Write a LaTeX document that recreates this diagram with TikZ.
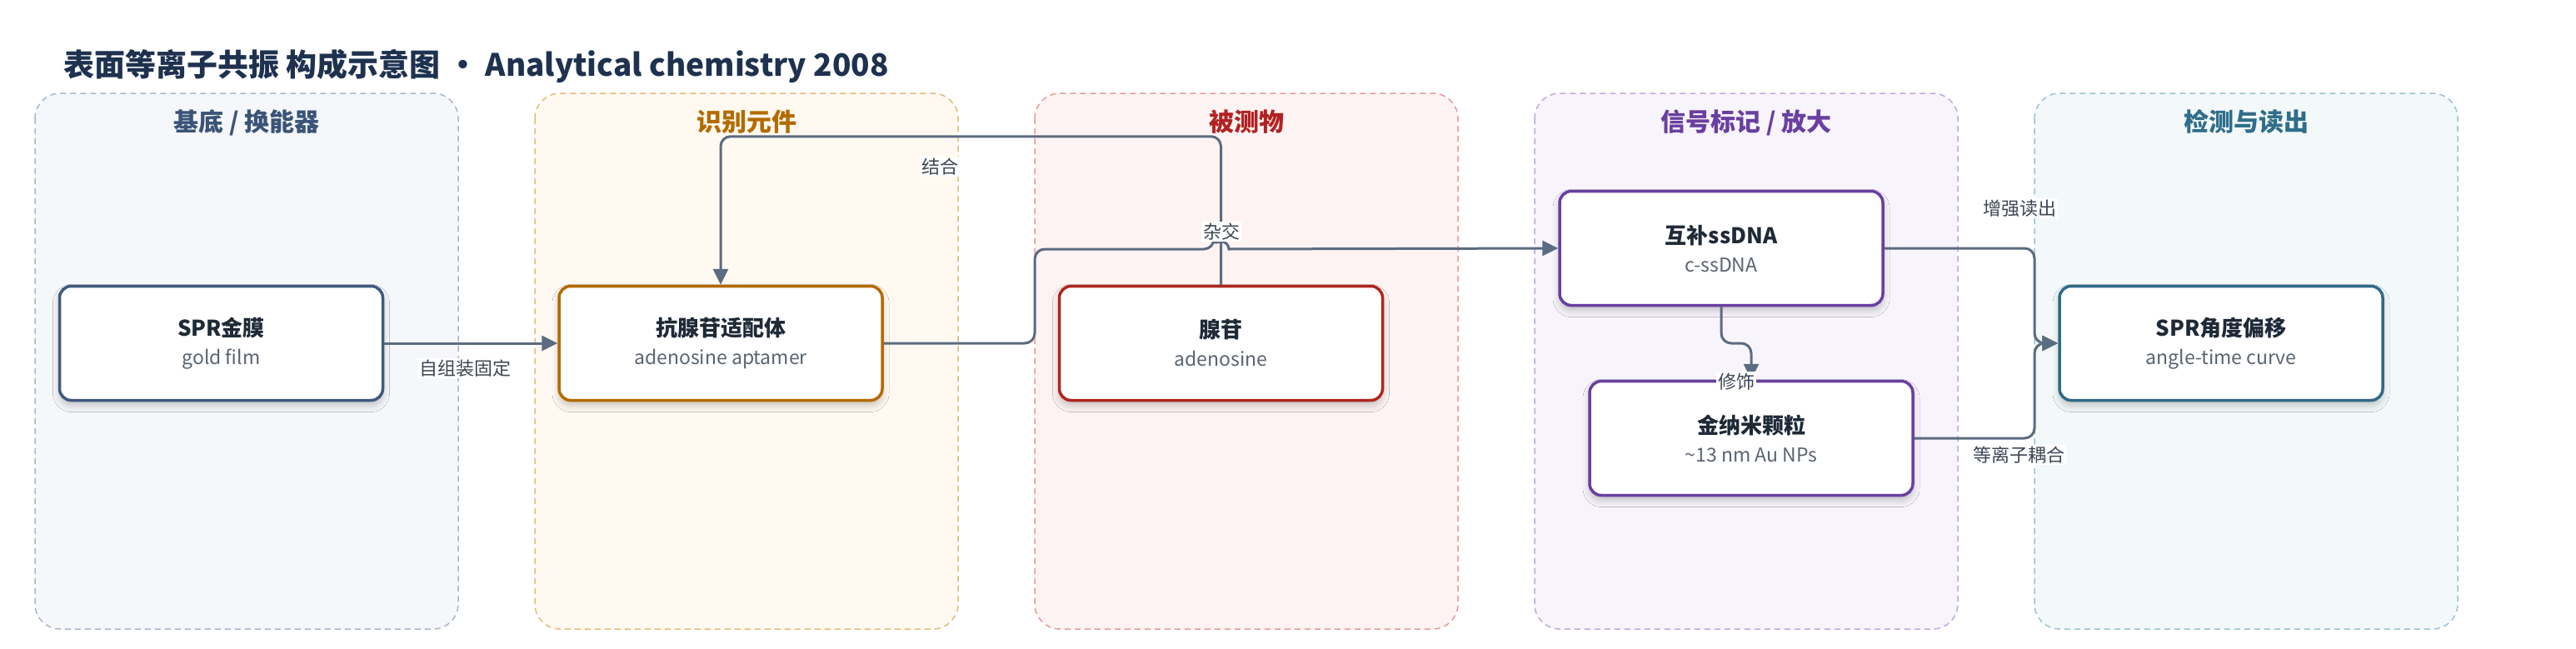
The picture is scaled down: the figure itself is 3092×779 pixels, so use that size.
\documentclass[tikz,border=0pt]{standalone}
\usepackage{fontspec}
\setmainfont{Noto Sans CJK SC}
\usetikzlibrary{arrows.meta,shadows.blur}
\definecolor{titlec}{HTML}{1E3250}
\definecolor{tdark}{HTML}{1F2A37}
\definecolor{tsub}{HTML}{5A6472}
\definecolor{ec}{HTML}{5B6B80}
\definecolor{lc}{HTML}{3D4654}
\definecolor{p1d}{HTML}{A9B7CC}\definecolor{p1f}{HTML}{F5F7FB}\definecolor{p1h}{HTML}{3B5478}\definecolor{p1n}{HTML}{3F5A80}
\definecolor{p2d}{HTML}{E2BC78}\definecolor{p2f}{HTML}{FFF9F1}\definecolor{p2h}{HTML}{B36B00}\definecolor{p2n}{HTML}{B36B00}
\definecolor{p3d}{HTML}{E39C9C}\definecolor{p3f}{HTML}{FDF3F3}\definecolor{p3h}{HTML}{B22222}\definecolor{p3n}{HTML}{B0261F}
\definecolor{p4d}{HTML}{C4A8DC}\definecolor{p4f}{HTML}{F7F4FC}\definecolor{p4h}{HTML}{6A3FA0}\definecolor{p4n}{HTML}{6A3FA0}
\definecolor{p5d}{HTML}{9CC3D1}\definecolor{p5f}{HTML}{F3F8F9}\definecolor{p5h}{HTML}{2F6E8A}\definecolor{p5n}{HTML}{2F6A88}
\newcommand\nodeT[1]{{\fontsize{26}{34}\selectfont\bfseries\color{tdark}#1}}
\newcommand\nodeS[1]{{\fontsize{23}{34}\selectfont\color{tsub}#1}}
\tikzset{
  panel/.style 2 args={draw=#1, fill=#2, dash pattern=on 7pt off 5pt, line width=1.5pt, rounded corners=30pt},
  head/.style={font=\fontsize{30}{34}\selectfont\bfseries, text=#1, anchor=base, inner sep=0pt},
  box/.style={draw=#1, fill=white, line width=3.5pt, rounded corners=14pt, minimum width=388pt, minimum height=137pt, align=center, inner sep=0pt, font=\fontsize{24}{34}\selectfont,
    blur shadow={shadow xshift=0pt, shadow yshift=-6pt, shadow blur radius=8pt, shadow opacity=22}},
  conn/.style={draw=ec, line width=3pt, rounded corners=12pt, -{Triangle[length=19pt,width=18pt]}},
  lab/.style={font=\fontsize{22}{26}\selectfont, text=lc, fill=white, inner sep=2pt}
}
\begin{document}
\begin{tikzpicture}[x=1pt,y=-1pt]
\useasboundingbox (0,0) rectangle (3092,779);
\fill[white] (0,0) rectangle (3092,779);
\node[font=\fontsize{37}{44}\selectfont\bfseries, text=titlec, anchor=base west, inner sep=0pt] (title) at (76,91) {表面等离子共振 构成示意图 • Analytical chemistry 2008};
% panels
\draw[panel={p1d}{p1f}] (42,112) rectangle (550,755);
\draw[panel={p2d}{p2f}] (642,112) rectangle (1150,755);
\draw[panel={p3d}{p3f}] (1242,112) rectangle (1750,755);
\draw[panel={p4d}{p4f}] (1842,112) rectangle (2350,755);
\draw[panel={p5d}{p5f}] (2442,112) rectangle (2950,755);
\node[head=p1h] (h1) at (296,157) {基底 / 换能器};
\node[head=p2h] (h2) at (896,157) {识别元件};
\node[head=p3h] (h3) at (1496,157) {被测物};
\node[head=p4h] (h4) at (2096,157) {信号标记 / 放大};
\node[head=p5h] (h5) at (2696,157) {检测与读出};
% nodes
\node[box=p1n] (n1) at (265.5,412) {\nodeT{SPR金膜}\\\nodeS{gold film}};
\node[box=p2n] (n2) at (865,412) {\nodeT{抗腺苷适配体}\\\nodeS{adenosine aptamer}};
\node[box=p3n] (n3) at (1465.5,412) {\nodeT{腺苷}\\\nodeS{adenosine}};
\node[box=p4n] (n4) at (2066,298) {\nodeT{互补ssDNA}\\\nodeS{c-ssDNA}};
\node[box=p4n] (n5) at (2102,526) {\nodeT{金纳米颗粒}\\\nodeS{\textasciitilde 13 nm Au NPs}};
\node[box=p5n] (n6) at (2666,412) {\nodeT{SPR角度偏移}\\\nodeS{angle-time curve}};
% connectors
\draw[conn] (n1.east) -- (n2.west);
\node[lab] (l1) at (558,442) {自组装固定};
\draw[conn] (n3.north) -- ++(0,-178) -| (n2.north);
\node[lab] (l2) at (1128,200) {结合};
\draw[conn] (n2.east) -- (1242,412) -- (1242,299) -- (1457,299) [sharp corners] arc[start angle=180, end angle=360, radius=9] [rounded corners=12pt] -- (n4.west);
\node[lab] (l3) at (1466,278) {杂交};
\draw[conn] (n4.south) -- (2066,412) -- (2102,412) -- (n5.north);
\node[lab] (l4) at (2084,458) {修饰};
\draw[conn] (n4.east) -- (2442,298) -- (2442,412) -- (n6.west);
\node[lab] (l5) at (2424,250) {增强读出};
\draw[conn] (n5.east) -- (2442,526) -- (2442,412) -- (n6.west);
\node[lab] (l6) at (2423,546) {等离子耦合};
\end{tikzpicture}
\end{document}
